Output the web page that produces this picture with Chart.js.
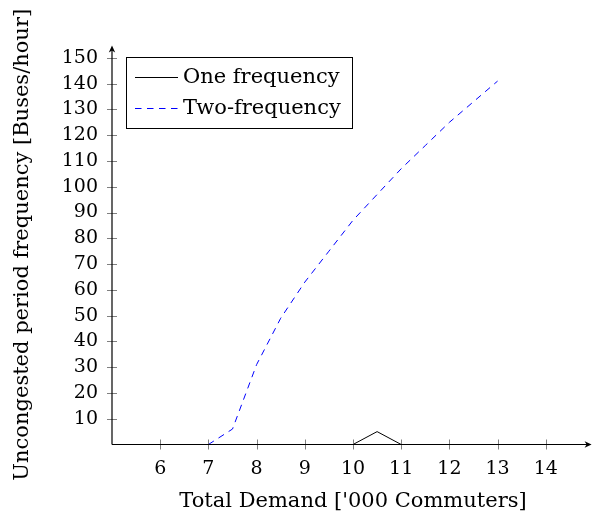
<!DOCTYPE html>
<html><head><meta charset="utf-8">
<script src="https://cdn.jsdelivr.net/npm/chart.js@4.4.1/dist/chart.umd.min.js"></script>
<style>html,body{margin:0;padding:0;background:#fff}#wrap{width:596px;height:516px}</style>
</head><body><div id="wrap"><canvas id="c" width="596" height="516"></canvas></div>
<script>
const demand = [7, 7.5, 8, 8.5, 9, 9.5, 10, 10.5, 11, 11.5, 12, 12.5, 13];
const oneFrequency = [0, 0, 0, 0, 0, 0, 0, 5, 0, 0, 0, 0, 0];
const twoFrequency = [0, 6, 31, 49, 63, 75, 87, 97, 107, 116, 125, 133, 141];
const xTickLabels = [6, 7, 8, 9, 10, 11, 12, 13, 14];
const yTickLabels = [10, 20, 30, 40, 50, 60, 70, 80, 90, 100, 110, 120, 130, 140, 150];
const seriesNames = ["One frequency", "Two-frequency"];
const xTitle = "Total Demand ['000 Commuters]";
const yTitle = "Uncongested period frequency [Buses/hour]";

const FONT = "'DejaVu Serif', 'Liberation Serif', serif";
const FS = 19;
const FT = 21;

const axesPlugin = {
  id: 'pgfAxes',
  afterDatasetsDraw(chart) {
    const ctx = chart.ctx, xs = chart.scales.x, ys = chart.scales.y;
    const x0 = xs.getPixelForValue(5), y0 = ys.getPixelForValue(0);
    const xEnd = xs.getPixelForValue(14.95), yEnd = ys.getPixelForValue(154.8);
    ctx.save();
    ctx.strokeStyle = '#808080'; ctx.lineWidth = 1;
    xTickLabels.forEach(v => { const p = Math.round(xs.getPixelForValue(v)) + 0.5; ctx.beginPath(); ctx.moveTo(p, y0 - 5); ctx.lineTo(p, y0 + 5); ctx.stroke(); });
    yTickLabels.forEach(v => { const p = Math.round(ys.getPixelForValue(v)) + 0.5; ctx.beginPath(); ctx.moveTo(x0 - 5, p); ctx.lineTo(x0 + 5, p); ctx.stroke(); });
    ctx.strokeStyle = '#000'; ctx.lineWidth = 1.2;
    ctx.beginPath(); ctx.moveTo(x0, y0); ctx.lineTo(xEnd - 3, y0); ctx.stroke();
    ctx.beginPath(); ctx.moveTo(x0, y0); ctx.lineTo(x0, yEnd + 3); ctx.stroke();
    ctx.fillStyle = '#000';
    ctx.beginPath(); ctx.moveTo(xEnd, y0); ctx.lineTo(xEnd - 7, y0 - 3.2); ctx.lineTo(xEnd - 5, y0); ctx.lineTo(xEnd - 7, y0 + 3.2); ctx.closePath(); ctx.fill();
    ctx.beginPath(); ctx.moveTo(x0, yEnd); ctx.lineTo(x0 - 3.2, yEnd + 7); ctx.lineTo(x0, yEnd + 5); ctx.lineTo(x0 + 3.2, yEnd + 7); ctx.closePath(); ctx.fill();
    const lx = 126.5, ly = 57.5, lw = 226, lh = 71;
    ctx.fillStyle = '#fff'; ctx.fillRect(lx, ly, lw, lh);
    ctx.strokeStyle = '#000'; ctx.lineWidth = 1; ctx.strokeRect(lx, ly, lw, lh);
    ctx.font = FT + 'px ' + FONT; ctx.textBaseline = 'middle'; ctx.textAlign = 'left';
    chart.data.datasets.forEach((ds, i) => {
      const yy = 77.5 + i * 31;
      ctx.strokeStyle = ds.borderColor; ctx.lineWidth = 1; ctx.setLineDash(ds.borderDash || []);
      ctx.beginPath(); ctx.moveTo(135, yy); ctx.lineTo(178, yy); ctx.stroke();
      ctx.setLineDash([]);
      ctx.fillStyle = '#000'; ctx.fillText(ds.label, 183, yy);
    });
    ctx.restore();
  }
};

new Chart(document.getElementById('c'), {
  type: 'line',
  data: {
    datasets: [
      { label: seriesNames[0], data: demand.map((d, i) => ({x: d, y: oneFrequency[i]})), borderColor: '#000000', borderWidth: 1, pointRadius: 0, tension: 0, clip: false },
      { label: seriesNames[1], data: demand.map((d, i) => ({x: d, y: twoFrequency[i]})), borderColor: '#0000ff', borderWidth: 1, borderDash: [6.5, 5.5], pointRadius: 0, tension: 0, clip: false }
    ]
  },
  options: {
    responsive: false, animation: false,
    layout: { padding: { top: 45, right: 2, bottom: 0, left: 0 } },
    plugins: { legend: { display: false }, tooltip: { enabled: false } },
    scales: {
      x: {
        type: 'linear', min: 5, max: 15,
        afterFit(s) { s.height = 71.5; s.paddingLeft = 0; s.paddingRight = 0; },
        grid: { display: false, drawTicks: false }, border: { display: false },
        ticks: { stepSize: 1, autoSkip: false, includeBounds: false, maxRotation: 0, padding: 13, color: '#000', font: { family: FONT, size: FS },
          callback: v => xTickLabels.includes(v) ? String(v) : '' },
        title: { display: true, text: xTitle, color: '#000', font: { family: FONT, size: FT }, padding: { top: 0, bottom: 2 } }
      },
      y: {
        type: 'linear', min: 0, max: 155,
        afterFit(s) { s.width = 112; s.paddingTop = 0; s.paddingBottom = 0; },
        grid: { display: false, drawTicks: false }, border: { display: false },
        ticks: { stepSize: 10, autoSkip: false, includeBounds: false, padding: 14, color: '#000', font: { family: FONT, size: FS },
          callback: v => yTickLabels.includes(v) ? String(v) : '' },
        title: { display: true, text: yTitle, color: '#000', font: { family: FONT, size: FT }, padding: { top: 9.5, bottom: 0 } }
      }
    }
  },
  plugins: [axesPlugin]
});
</script></body></html>
